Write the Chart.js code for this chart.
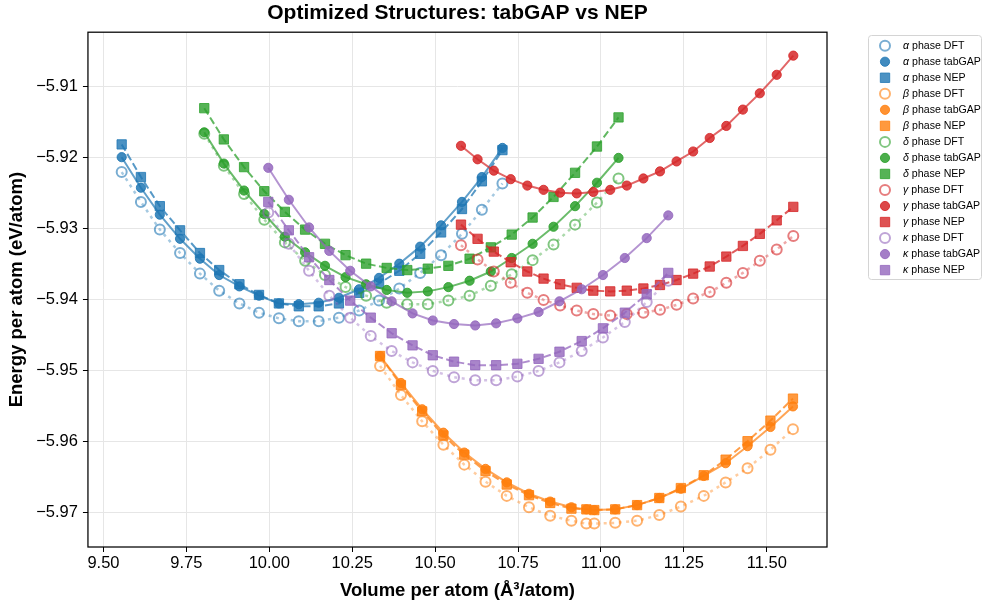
<!DOCTYPE html>
<html>
<head>
<meta charset="utf-8">
<title>Optimized Structures: tabGAP vs NEP</title>
<script src="https://cdn.jsdelivr.net/npm/chart.js"></script>
<style>
  html, body { margin: 0; padding: 0; background: #fff; }
  #wrap { width: 985px; height: 605px; }
</style>
</head>
<body>
<div id="wrap"><canvas id="chart" width="985" height="605"></canvas></div>
<script>
// Volume per atom (Å³/atom) and energy per atom (eV/atom) for each phase
const volAlpha = [9.555, 9.613, 9.670, 9.731, 9.791, 9.849, 9.910, 9.969, 10.029, 10.089, 10.149, 10.210, 10.271, 10.331, 10.392, 10.455, 10.518, 10.581, 10.641, 10.703];
const dftAlpha = [-5.9221, -5.9263, -5.9302, -5.9335, -5.9364, -5.9388, -5.9406, -5.9419, -5.9427, -5.9431, -5.9431, -5.9426, -5.9416, -5.9402, -5.9385, -5.9363, -5.9338, -5.9308, -5.9274, -5.9237];
const tabgapAlpha = [-5.9200, -5.9243, -5.9281, -5.9315, -5.9343, -5.9366, -5.9382, -5.9395, -5.9406, -5.9407, -5.9405, -5.9398, -5.9386, -5.9370, -5.9350, -5.9326, -5.9296, -5.9263, -5.9228, -5.9187];
const nepAlpha = [-5.9182, -5.9228, -5.9269, -5.9303, -5.9335, -5.9359, -5.9379, -5.9394, -5.9406, -5.9410, -5.9410, -5.9406, -5.9391, -5.9378, -5.9360, -5.9336, -5.9306, -5.9273, -5.9234, -5.9190];

const volBeta = [10.334, 10.397, 10.461, 10.525, 10.588, 10.652, 10.716, 10.783, 10.847, 10.911, 10.956, 10.980, 11.043, 11.109, 11.176, 11.241, 11.310, 11.376, 11.442, 11.511, 11.579];
const dftBeta = [-5.9494, -5.9535, -5.9572, -5.9605, -5.9633, -5.9657, -5.9677, -5.9693, -5.9705, -5.9712, -5.9716, -5.9716, -5.9715, -5.9712, -5.9704, -5.9692, -5.9677, -5.9658, -5.9638, -5.9612, -5.9583];
const tabgapBeta = [-5.9480, -5.9518, -5.9555, -5.9588, -5.9616, -5.9639, -5.9658, -5.9674, -5.9685, -5.9693, -5.9696, -5.9697, -5.9696, -5.9690, -5.9680, -5.9667, -5.9649, -5.9631, -5.9607, -5.9580, -5.9551];
const nepBeta = [-5.9480, -5.9521, -5.9558, -5.9592, -5.9619, -5.9642, -5.9661, -5.9676, -5.9687, -5.9695, -5.9696, -5.9697, -5.9696, -5.9690, -5.9680, -5.9666, -5.9648, -5.9626, -5.9600, -5.9571, -5.9540];

const volDelta = [9.804, 9.863, 9.924, 9.985, 10.047, 10.108, 10.168, 10.230, 10.292, 10.354, 10.416, 10.478, 10.540, 10.604, 10.668, 10.731, 10.794, 10.857, 10.922, 10.988, 11.053];
const dftDelta = [-5.9167, -5.9212, -5.9252, -5.9288, -5.9320, -5.9346, -5.9366, -5.9383, -5.9395, -5.9405, -5.9407, -5.9407, -5.9402, -5.9395, -5.9381, -5.9365, -5.9345, -5.9323, -5.9295, -5.9264, -5.9230];
const tabgapDelta = [-5.9165, -5.9209, -5.9247, -5.9280, -5.9312, -5.9334, -5.9353, -5.9369, -5.9379, -5.9387, -5.9391, -5.9389, -5.9383, -5.9374, -5.9361, -5.9342, -5.9322, -5.9298, -5.9269, -5.9236, -5.9201];
const nepDelta = [-5.9131, -5.9175, -5.9214, -5.9248, -5.9277, -5.9302, -5.9322, -5.9338, -5.9350, -5.9356, -5.9359, -5.9357, -5.9353, -5.9343, -5.9327, -5.9309, -5.9285, -5.9256, -5.9222, -5.9185, -5.9144];

const volGamma = [10.578, 10.628, 10.677, 10.728, 10.778, 10.827, 10.877, 10.927, 10.977, 11.028, 11.078, 11.128, 11.178, 11.228, 11.278, 11.328, 11.378, 11.428, 11.479, 11.530, 11.580];
const dftGamma = [-5.9324, -5.9344, -5.9361, -5.9377, -5.9391, -5.9401, -5.9409, -5.9416, -5.9421, -5.9423, -5.9421, -5.9419, -5.9415, -5.9408, -5.9399, -5.9390, -5.9377, -5.9363, -5.9346, -5.9330, -5.9311];
const tabgapGamma = [-5.9184, -5.9203, -5.9219, -5.9231, -5.9240, -5.9246, -5.9250, -5.9251, -5.9249, -5.9246, -5.9240, -5.9230, -5.9220, -5.9206, -5.9192, -5.9173, -5.9156, -5.9133, -5.9110, -5.9084, -5.9057];
const nepGamma = [-5.9295, -5.9315, -5.9333, -5.9348, -5.9361, -5.9371, -5.9379, -5.9384, -5.9388, -5.9389, -5.9388, -5.9385, -5.9380, -5.9373, -5.9364, -5.9354, -5.9340, -5.9325, -5.9308, -5.9289, -5.9270];

const volKappa = [9.997, 10.059, 10.120, 10.181, 10.244, 10.306, 10.369, 10.432, 10.493, 10.557, 10.621, 10.684, 10.748, 10.812, 10.875, 10.942, 11.006, 11.072, 11.138, 11.203];
const dftKappa = [-5.9278, -5.9322, -5.9360, -5.9395, -5.9426, -5.9452, -5.9473, -5.9489, -5.9501, -5.9510, -5.9514, -5.9514, -5.9509, -5.9501, -5.9489, -5.9473, -5.9454, -5.9432, -5.9404, -5.9374];
const tabgapKappa = [-5.9215, -5.9260, -5.9299, -5.9332, -5.9360, -5.9382, -5.9403, -5.9420, -5.9430, -5.9435, -5.9437, -5.9434, -5.9427, -5.9418, -5.9403, -5.9386, -5.9366, -5.9342, -5.9314, -5.9282];
const nepKappa = [-5.9263, -5.9303, -5.9341, -5.9373, -5.9402, -5.9426, -5.9448, -5.9465, -5.9479, -5.9488, -5.9493, -5.9493, -5.9491, -5.9484, -5.9474, -5.9459, -5.9441, -5.9419, -5.9393, -5.9363];

const phaseNames = ['α', 'β', 'δ', 'γ', 'κ'];
const phaseColors = ['31,119,180', '255,127,14', '44,160,44', '214,39,40', '148,103,189'];

const xTicks = [9.5, 9.75, 10.0, 10.25, 10.5, 10.75, 11.0, 11.25, 11.5];
const yTicks = [-5.97, -5.96, -5.95, -5.94, -5.93, -5.92, -5.91];

const phases = [
  { vol: volAlpha, dft: dftAlpha, tabgap: tabgapAlpha, nep: nepAlpha },
  { vol: volBeta, dft: dftBeta, tabgap: tabgapBeta, nep: nepBeta },
  { vol: volDelta, dft: dftDelta, tabgap: tabgapDelta, nep: nepDelta },
  { vol: volGamma, dft: dftGamma, tabgap: tabgapGamma, nep: nepGamma },
  { vol: volKappa, dft: dftKappa, tabgap: tabgapKappa, nep: nepKappa }
];

const FONT = '"Liberation Sans", Arial, Helvetica, sans-serif';

function toPoints(xs, ys) {
  return xs.map((x, i) => ({ x: x, y: ys[i] }));
}

const datasets = [];
phases.forEach((p, i) => {
  const rgb = phaseColors[i];
  const name = phaseNames[i];

  // DFT reference: open circles, dotted line
  datasets.push({
    label: `${name} phase DFT`,
    data: toPoints(p.vol, p.dft),
    borderColor: `rgba(${rgb},0.4)`,
    borderWidth: 2.5,
    borderDash: [3, 4.5],
    pointStyle: 'circle',
    pointRadius: 5,
    pointBorderWidth: 2,
    pointBorderColor: `rgba(${rgb},0.6)`,
    pointBackgroundColor: 'rgba(255,255,255,0)'
  });

  // tabGAP: filled circles, solid line
  datasets.push({
    label: `${name} phase tabGAP`,
    data: toPoints(p.vol, p.tabgap),
    borderColor: `rgba(${rgb},0.7)`,
    borderWidth: 2,
    pointStyle: 'circle',
    pointRadius: 4.6,
    pointBorderWidth: 1,
    pointBorderColor: `rgba(${rgb},0.85)`,
    pointBackgroundColor: `rgba(${rgb},0.85)`
  });

  // NEP: squares, dashed line
  datasets.push({
    label: `${name} phase NEP`,
    data: toPoints(p.vol, p.nep),
    borderColor: `rgba(${rgb},0.75)`,
    borderWidth: 2,
    borderDash: [7.5, 3.5],
    pointStyle: 'rect',
    pointRadius: 6.6,
    pointBorderWidth: 1,
    pointBorderColor: `rgba(${rgb},0.8)`,
    pointBackgroundColor: `rgba(${rgb},0.8)`
  });
});

// later series sit on top
datasets.forEach((d, i) => {
  d.showLine = true;
  d.order = -i;
});

// black frame around the plot area
const frame = {
  id: 'frame',
  afterDatasetsDraw(chart) {
    const { ctx, chartArea: a } = chart;
    ctx.save();
    ctx.strokeStyle = '#000';
    ctx.lineWidth = 1.25;
    ctx.strokeRect(a.left, a.top, a.right - a.left, a.bottom - a.top);
    ctx.restore();
  }
};

function drawMarker(ctx, ds, x, y) {
  ctx.save();
  ctx.lineWidth = ds.pointBorderWidth;
  ctx.strokeStyle = ds.pointBorderColor;
  ctx.fillStyle = ds.pointBackgroundColor;
  ctx.beginPath();
  if (ds.pointStyle === 'rect') {
    const s = 4.7;
    ctx.rect(x - s, y - s, 2 * s, 2 * s);
  } else {
    ctx.arc(x, y, ds.pointRadius, 0, Math.PI * 2);
  }
  ctx.fill();
  ctx.stroke();
  ctx.restore();
}

// legend box to the right of the plot, greek letter in italics
const sideLegend = {
  id: 'sideLegend',
  afterDraw(chart) {
    const ctx = chart.ctx;
    const left = 868, top = 35, width = 113, height = 244;
    ctx.save();
    ctx.beginPath();
    ctx.roundRect(left + 0.5, top + 0.5, width, height, 3);
    ctx.fillStyle = 'rgba(255,255,255,0.85)';
    ctx.fill();
    ctx.strokeStyle = '#d4d4d4';
    ctx.lineWidth = 1;
    ctx.stroke();

    ctx.textBaseline = 'middle';
    chart.data.datasets.forEach((ds, i) => {
      const y = 45.7 + i * 16.03;
      drawMarker(ctx, ds, 885, y);
      const parts = ds.label.split(' ');
      const greek = parts.shift();
      ctx.fillStyle = '#000';
      ctx.font = `italic 10.6px ${FONT}`;
      ctx.fillText(greek, 903, y);
      const gw = ctx.measureText(greek).width;
      ctx.font = `10.6px ${FONT}`;
      ctx.fillText(' ' + parts.join(' '), 903 + gw, y);
    });
    ctx.restore();
  }
};

Chart.defaults.font.family = FONT;
Chart.defaults.color = '#000';

new Chart(document.getElementById('chart'), {
  type: 'scatter',
  data: { datasets: datasets },
  plugins: [frame, sideLegend],
  options: {
    responsive: false,
    animation: false,
    events: [],
    layout: { padding: { left: 0, right: 158, top: 0, bottom: 0 } },
    plugins: {
      legend: { display: false },
      tooltip: { enabled: false },
      title: {
        display: true,
        fullSize: false,
        text: 'Optimized Structures: tabGAP vs NEP',
        font: { size: 21, weight: 'bold' },
        color: '#000',
        padding: { top: 1, bottom: 6 }
      }
    },
    scales: {
      x: {
        type: 'linear',
        min: 9.4533,
        max: 11.6816,
        afterBuildTicks: axis => { axis.ticks = xTicks.map(v => ({ value: v })); },
        ticks: {
          font: { size: 16.5 },
          color: '#000',
          padding: 2,
          maxRotation: 0,
          callback: v => v.toFixed(2)
        },
        grid: { color: '#e6e6e6', lineWidth: 1, tickColor: '#000', tickLength: 5 },
        border: { display: false },
        title: {
          display: true,
          text: 'Volume per atom (Å³/atom)',
          font: { size: 18.5, weight: 'bold' },
          color: '#000',
          padding: { top: 4, bottom: 3 }
        }
      },
      y: {
        type: 'linear',
        min: -5.9749,
        max: -5.9024,
        afterBuildTicks: axis => { axis.ticks = yTicks.map(v => ({ value: v })); },
        ticks: {
          font: { size: 16.5 },
          color: '#000',
          padding: 5,
          callback: v => (v < 0 ? '\u2212' : '') + Math.abs(v).toFixed(2)
        },
        grid: { color: '#e6e6e6', lineWidth: 1, tickColor: '#000', tickLength: 5 },
        border: { display: false },
        title: {
          display: true,
          text: 'Energy per atom (eV/atom)',
          font: { size: 18.5, weight: 'bold' },
          color: '#000',
          padding: { top: 6, bottom: 3 }
        }
      }
    }
  }
});
</script>
</body>
</html>
